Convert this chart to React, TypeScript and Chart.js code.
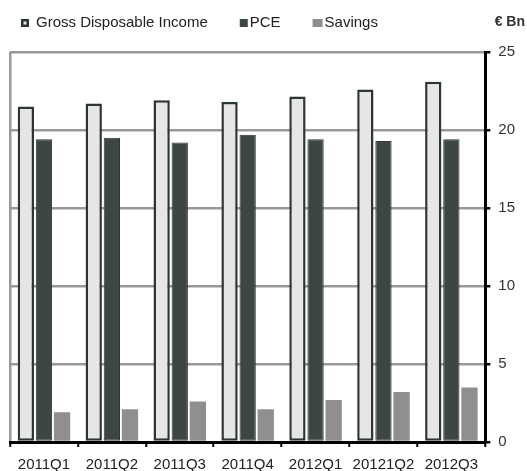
import React, { useEffect, useRef } from "react";
import { Chart, registerables } from "chart.js";

Chart.register(...registerables);

const categories = ["2011Q1", "2011Q2", "2011Q3", "2011Q4", "2012Q1", "20121Q2", "2012Q3"];
const gdiValues = [21.5, 21.7, 21.9, 21.8, 22.15, 22.6, 23.1];
const pceValues = [19.4, 19.5, 19.2, 19.7, 19.4, 19.3, 19.4];
const savingsValues = [1.9, 2.1, 2.6, 2.1, 2.7, 3.2, 3.5];
const seriesLabels = ["Gross Disposable Income", "PCE", "Savings"];
const unitLabel = "€ Bn";
const yMin = 0;
const yMax = 25;
const yStep = 5;

const FONT = '"Liberation Sans", Arial, sans-serif';

const legendPlugin = {
  id: "customLegend",
  afterDraw(chart: any) {
    const ctx = chart.ctx;
    ctx.save();
    ctx.font = `15px ${FONT}`;
    ctx.textBaseline = "middle";
    ctx.textAlign = "left";
    let x = 21;
    const y = 23;
    chart.data.datasets.forEach((ds: any, i: number) => {
      ctx.fillStyle = ds.backgroundColor;
      ctx.fillRect(x, y - 4, i === 2 ? 10 : 8, 8);
      if (ds.borderWidth > 1) {
        ctx.strokeStyle = ds.borderColor;
        ctx.lineWidth = 2.5;
        ctx.strokeRect(x + 1.25, y - 2.75, 5.5, 5.5);
      }
      x += (i === 2 ? 10 : 8) + (i === 0 ? 7 : 2);
      ctx.fillStyle = "#222";
      ctx.fillText(ds.label, x, y);
      x += ctx.measureText(ds.label).width + 32;
    });
    ctx.font = `bold 14px ${FONT}`;
    ctx.textAlign = "right";
    ctx.fillStyle = "#333";
    ctx.fillText(unitLabel, 525, 22);
    ctx.restore();
  },
};

export default function App() {
  const canvasRef = useRef<HTMLCanvasElement | null>(null);

  useEffect(() => {
    if (!canvasRef.current) return;
    const chart = new Chart(canvasRef.current, {
      type: "bar",
      data: {
        labels: categories,
        datasets: [
          {
            label: seriesLabels[0],
            data: gdiValues,
            backgroundColor: "#e6e6e6",
            borderColor: "#2c3634",
            borderWidth: 2.5,
            borderSkipped: false,
          },
          {
            label: seriesLabels[1],
            data: pceValues,
            backgroundColor: "#3d4643",
            borderColor: "#2f3734",
            borderWidth: 1,
            borderSkipped: false,
          },
          {
            label: seriesLabels[2],
            data: savingsValues,
            backgroundColor: "#8f8f8f",
            borderWidth: 0,
          },
        ],
      },
      options: {
        responsive: false,
        animation: false,
        layout: { padding: { left: 10, top: 52, right: 4, bottom: -12 } },
        plugins: {
          legend: { display: false },
          tooltip: { enabled: false },
        },
        scales: {
          x: {
            z: 1,
            offset: true,
            grid: {
              offset: true,
              color: (c: any) => (c.index === 0 ? "#999999" : "rgba(0,0,0,0)"),
              lineWidth: 2.5,
              drawTicks: true,
              tickColor: "#000",
              tickLength: 5,
              tickWidth: 2,
            },
            border: { display: true, color: "#000", width: 3 },
            ticks: {
              color: "#222",
              font: { family: FONT, size: 15 },
              padding: 9,
              maxRotation: 0,
              autoSkip: false,
            },
            categoryPercentage: 0.655,
            barPercentage: 1.0,
          },
          y: {
            position: "right",
            min: yMin,
            max: yMax,
            grid: {
              color: "#999999",
              lineWidth: 2.5,
              drawTicks: true,
              tickColor: "#000",
              tickLength: 5,
              tickWidth: 2.5,
            },
            border: { display: true, color: "#000", width: 3 },
            ticks: {
              stepSize: yStep,
              color: "#333",
              font: { family: FONT, size: 15 },
              padding: 8,
            },
          },
        },
      } as any,
      plugins: [legendPlugin],
    });
    return () => chart.destroy();
  }, []);

  return (
    <div style={{ position: "fixed", left: 0, top: 0, width: 527, height: 471, background: "#fff" }}>
      <canvas ref={canvasRef} width={527} height={471} />
    </div>
  );
}
